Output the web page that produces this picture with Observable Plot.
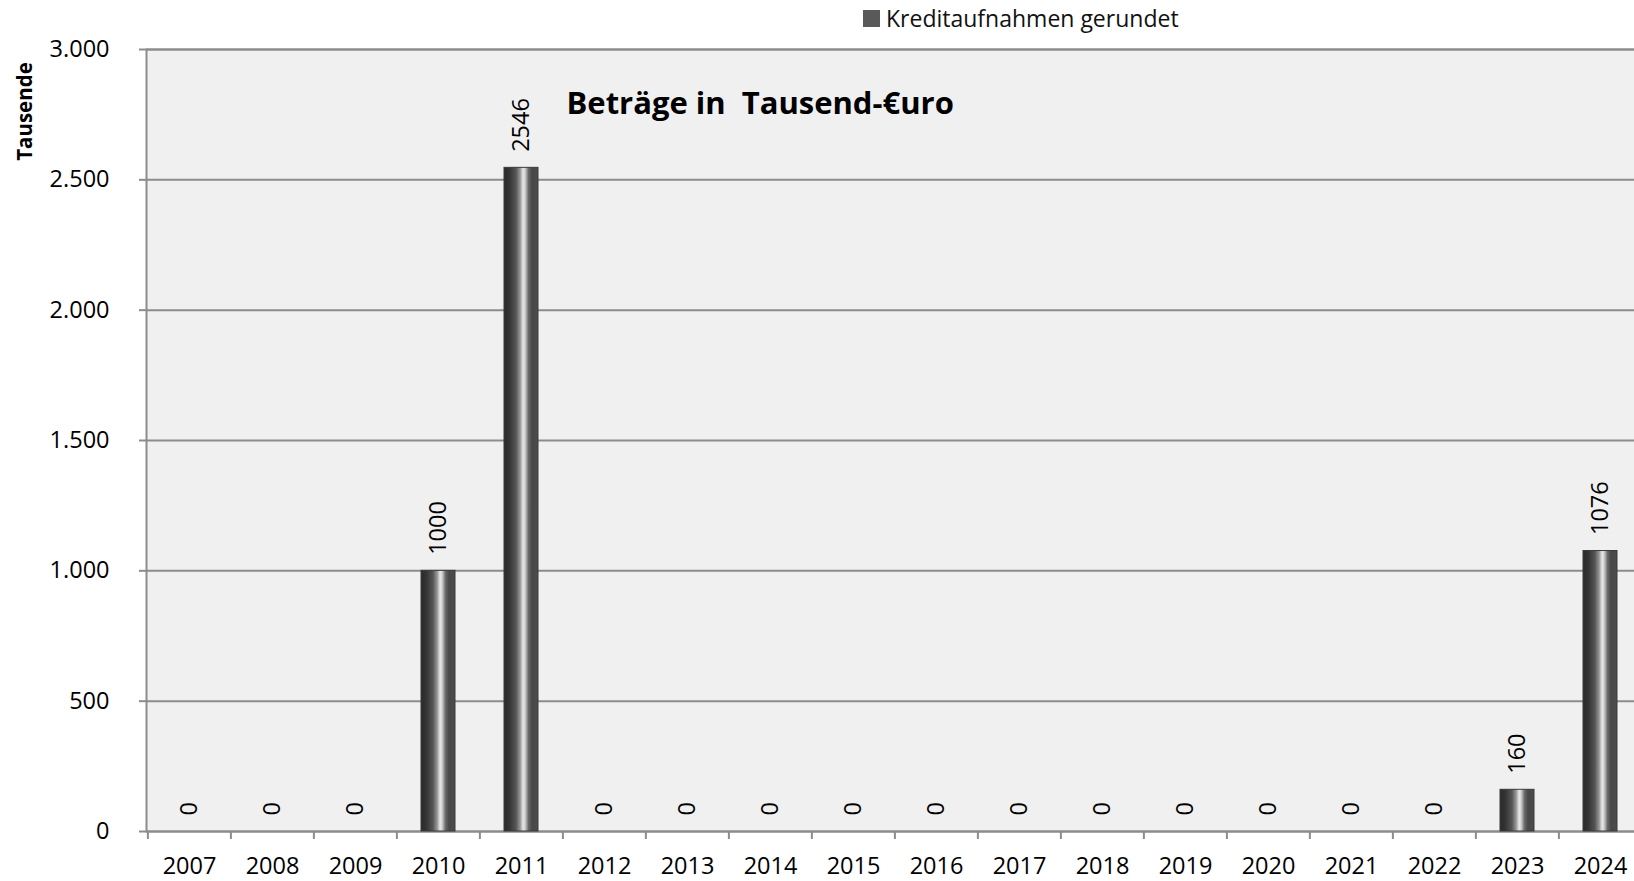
<!DOCTYPE html>
<html>
<head>
<meta charset="utf-8">
<script src="https://cdn.jsdelivr.net/npm/d3@7"></script>
<script src="https://cdn.jsdelivr.net/npm/@observablehq/plot@0.6"></script>
<style>
  html, body { margin: 0; padding: 0; background: white; overflow: hidden; }
  #wrap { position: relative; width: 1634px; height: 881px; overflow: hidden; }
  #wrap svg { max-width: none !important; display: block; }
  #wrap svg text { white-space: pre; }
  #legend { position: absolute; left: 863px; top: 3px; display: flex; align-items: center; gap: 6px;
            font-family: 'Open Sans', sans-serif; font-size: 23px; line-height: 30px; color: #111; }
  #legend .sw { width: 17px; height: 17px; background: #595959; }
</style>
</head>
<body>
<div id="wrap"></div>
<script>
const years = ["2007","2008","2009","2010","2011","2012","2013","2014","2015","2016","2017","2018","2019","2020","2021","2022","2023","2024"];
const amounts = [0, 0, 0, 1000, 2546, 0, 0, 0, 0, 0, 0, 0, 0, 0, 0, 0, 160, 1076];
const yTicks = [0, 500, 1000, 1500, 2000, 2500, 3000];
const seriesName = "Kreditaufnahmen gerundet";
const titleText = "Beträge in  Tausend-€uro";
const yLabel = "Tausende";

const data = years.map((y, i) => ({year: y, value: amounts[i]}));
const de = d3.formatLocale({decimal: ",", thousands: ".", grouping: [3], currency: ["", "€"]});
const fmt = de.format(",");

const W = 1644, ML = 146, MR = 0;
const step = (W - ML - MR) / years.length;

const svg = Plot.plot({
  width: W, height: 881,
  marginLeft: ML, marginRight: MR, marginTop: 49, marginBottom: 50,
  style: {fontFamily: "'Open Sans', sans-serif", fontSize: "23px", color: "black", background: "white"},
  x: {domain: years, paddingInner: 0.59, paddingOuter: 0.295},
  y: {domain: [0, 3000]},
  marks: [
    Plot.frame({fill: "#f0f0f0", stroke: "#8c8c8c", strokeWidth: 2}),
    Plot.gridY(yTicks, {stroke: "#8c8c8c", strokeOpacity: 1, strokeWidth: 2}),
    Plot.axisY(yTicks, {label: null, tickSize: 7, tickPadding: 30, tickFormat: fmt, stroke: "#8c8c8c", strokeWidth: 2, fill: "black", fontSize: 23.5}),
    Plot.axisX({label: null, tickSize: 8, tickFormat: () => "", dx: -step / 2, stroke: "#8c8c8c", strokeWidth: 2}),
    Plot.axisX({label: null, tickSize: 0, tickPadding: 26, fill: "black", fontSize: 23.5}),
    Plot.barY(data, {x: "year", y: "value", fill: "url(#cyl)", stroke: "#3a3a3a", strokeWidth: 1}),
    Plot.text(data, {x: "year", y: "value", text: d => String(d.value), rotate: -90, textAnchor: "start", lineAnchor: "middle", dy: -16, fontSize: 23.5, fill: "black"}),
    Plot.text([titleText], {frameAnchor: "top-left", dx: 420, dy: 55, textAnchor: "start", lineAnchor: "middle", fontWeight: "bold", fontSize: 31, fill: "black"}),
    Plot.text([yLabel], {frameAnchor: "top-left", dx: -121, dy: 62, rotate: -90, textAnchor: "middle", lineAnchor: "middle", fontWeight: "bold", fontSize: 20.5, fill: "black"})
  ]
});

const defs = d3.select(svg).insert("defs", ":first-child");
const g = defs.append("linearGradient").attr("id", "cyl").attr("x1", "0").attr("x2", "1").attr("y1", "0").attr("y2", "0");
[[0, "#2a2a2a"], [0.15, "#333333"], [0.35, "#555555"], [0.48, "#9a9a9a"], [0.56, "#e8e8e8"], [0.62, "#d0d0d0"], [0.72, "#6a6a6a"], [0.82, "#484848"], [1, "#4c4c4c"]]
  .forEach(([o, c]) => g.append("stop").attr("offset", o).attr("stop-color", c));

const wrap = document.getElementById("wrap");
wrap.appendChild(svg);
const legend = document.createElement("div");
legend.id = "legend";
legend.innerHTML = '<div class="sw"></div><span></span>';
legend.querySelector("span").textContent = seriesName;
wrap.appendChild(legend);
</script>
</body>
</html>
